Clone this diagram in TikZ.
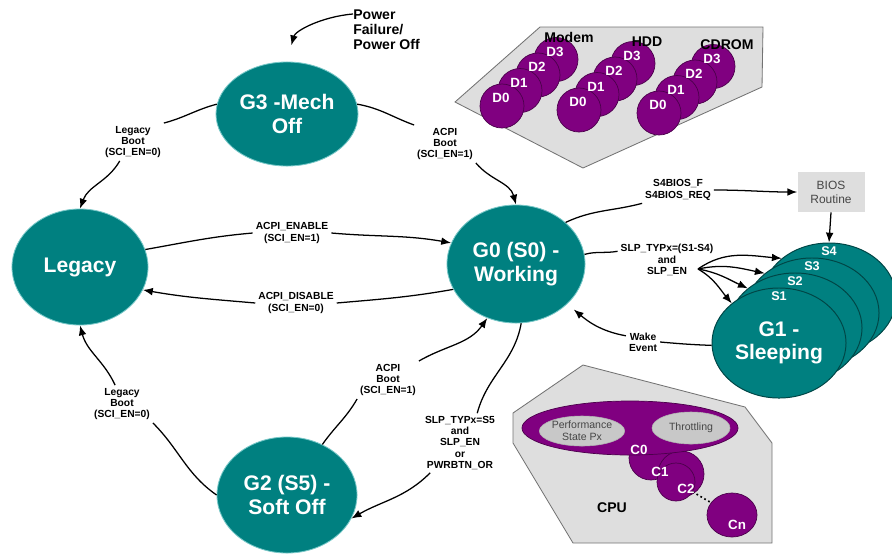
\documentclass[tikz,border=0pt]{standalone}
\usepackage{fontspec}
\setmainfont{Liberation Sans}
\usetikzlibrary{shapes.geometric,arrows.meta}
\definecolor{gteal}{RGB}{0,128,128}
\definecolor{grim}{RGB}{120,200,200}
\definecolor{sline}{RGB}{0,70,70}
\definecolor{dpurple}{RGB}{128,0,128}
\definecolor{dline}{RGB}{75,0,75}
\definecolor{boxgray}{RGB}{222,222,222}
\definecolor{pgray}{RGB}{200,200,200}
\definecolor{tgray}{RGB}{70,70,70}

\begin{document}
\begin{tikzpicture}[x=0.025cm, y=-0.025cm,
  gstate/.style={ellipse, fill=gteal, draw=grim, line width=0.6pt, text=white, inner sep=0pt,
    align=center, font=\bfseries\fontsize{15}{16.5}\selectfont},
  sstate/.style={ellipse, fill=gteal, draw=sline, line width=0.7pt, text=white, inner sep=0pt,
    align=center, minimum width=3.35cm, minimum height=2.75cm, font=\bfseries\fontsize{15}{16.5}\selectfont},
  slbl/.style={text=white, inner sep=0pt, font=\bfseries\fontsize{9}{10}\selectfont},
  tlbl/.style={align=center, inner sep=2pt, font=\bfseries\fontsize{7.3}{8}\selectfont},
  panel/.style={fill=boxgray, draw=black!55, line width=0.6pt},
  devc/.style={circle, fill=dpurple, draw=dline, line width=0.5pt, minimum size=1.1cm, inner sep=0pt},
  devt/.style={text=white, inner sep=0pt, font=\bfseries\fontsize{9.5}{10}\selectfont},
  cstate/.style={circle, fill=dpurple, draw=dline, line width=0.5pt, inner sep=0pt},
  pell/.style={ellipse, fill=pgray, draw=black!30, line width=0.4pt, inner sep=0pt, align=center,
    text=tgray, font=\fontsize{7.5}{8.5}\selectfont},
  biosbox/.style={fill=boxgray, text=tgray, align=center, minimum width=1.675cm, minimum height=1cm,
    inner sep=0pt, font=\fontsize{8.5}{10}\selectfont},
  ln/.style={line width=0.9pt},
  arr/.style={line width=0.9pt, -{Latex[length=7pt,width=5.5pt]}}]
\useasboundingbox (0,0) rectangle (892,554);

% dispositius
\draw[panel] (540,27) -- (763,27) -- (762,87) -- (583,168) -- (455,102) -- cycle;
\foreach \nm/\bx/\by in {mod/502/106, hdd/579/110, cdr/659/113}
  \foreach \k in {3,2,1,0}
    \node[devc] (\nm\k) at ({\bx+18*\k},{\by-15.5*\k}) {};
\foreach \nm in {mod, hdd, cdr}
  \foreach \k in {3,2,1,0}
    \node[devt] (\nm t\k) at ([shift={(-1,-8)}]\nm\k.center) {D\k};
\node[font=\bfseries\fontsize{10}{12}\selectfont] (lblModem) at (569,37) {Modem};
\node[font=\bfseries\fontsize{10}{12}\selectfont] (lblHdd) at (647,42) {HDD};
\node[font=\bfseries\fontsize{10}{12}\selectfont] (lblCdrom) at (727,45) {CDROM};

% CPU
\draw[panel] (583,365) -- (745,407) -- (772,443) -- (772,543) -- (573,543) -- (513,443) -- (513,413) -- cycle;
\node[cstate, minimum size=1.1cm] (c0) at (651,458) {};
\node[cstate, minimum size=1.15cm] (c1) at (681,474) {};
\node[cstate, minimum size=0.95cm] (c2) at (676,482) {};
\node[cstate, ellipse, minimum width=1.25cm, minimum height=1.1cm] (cn) at (732,515) {};
\draw[line width=1.2pt, dotted] (c2) -- (cn);
\node[ellipse, fill=dpurple, draw=dline, line width=0.5pt, minimum width=5.4cm, minimum height=1.35cm] (cpu) at (630,428) {};
\node[pell, minimum width=2.1cm, minimum height=0.75cm] (perf) at (582,431) {Performance\\State Px};
\node[pell, minimum width=1.95cm, minimum height=0.8cm] (thr) at (691,428) {Throttling};
\node[devt] (c0t) at (639,450) {C0};
\node[devt] (c1t) at (660,472) {C1};
\node[devt] (c2t) at (686,489) {C2};
\node[devt] (cnt) at (737,525) {Cn};
\node[font=\bfseries\fontsize{10}{12}\selectfont] (cpul) at (612,508) {CPU};

% estats globals
\node[gstate, minimum width=3.55cm, minimum height=2.6cm] (g3) at (287,114) {G3 -Mech\\Off};
\node[gstate, minimum width=3.4cm, minimum height=2.9cm] (legacy) at (80,267) {Legacy};
\node[gstate, minimum width=3.45cm, minimum height=2.95cm] (g0) at (516,264) {G0 (S0) -\\Working};
\node[gstate, minimum width=3.5cm, minimum height=2.9cm] (g2) at (287,495) {G2 (S5) -\\Soft Off};
\node[sstate] (s4) at (829,298) {};
\node[sstate] (s3) at (812,313) {};
\node[sstate] (s2) at (795,328) {};
\node[sstate] (s1) at (779,343) {G1 -\\Sleeping};
\node[slbl] (s4t) at ([yshift=-6pt]s4.north) {S4};
\node[slbl] (s3t) at ([yshift=-6pt]s3.north) {S3};
\node[slbl] (s2t) at ([yshift=-6pt]s2.north) {S2};
\node[slbl] (s1t) at ([yshift=-6pt]s1.north) {S1};
\node[biosbox] (bios) at (831,192) {BIOS\\Routine};

% etiquetes
\node[align=left, anchor=west, inner sep=0pt, font=\bfseries\fontsize{10}{10.7}\selectfont] (lbPower) at (353,30) {Power\\Failure/\\Power Off};
\node[tlbl] (lbLegA) at (133,142) {Legacy\\Boot\\(SCI\_EN=0)};
\node[tlbl] (lbAcpiA) at (445,144) {ACPI\\Boot\\(SCI\_EN=1)};
\node[tlbl] (lbEnable) at (292,233) {ACPI\_ENABLE\\(SCI\_EN=1)};
\node[tlbl] (lbDisable) at (296,303) {ACPI\_DISABLE\\(SCI\_EN=0)};
\node[tlbl] (lbLegB) at (122,404) {Legacy\\Boot\\(SCI\_EN=0)};
\node[tlbl] (lbAcpiB) at (388,380) {ACPI\\Boot\\(SCI\_EN=1)};
\node[tlbl] (lbS5) at (460,443) {SLP\_TYPx=S5\\and\\SLP\_EN\\or\\PWRBTN\_OR};
\node[tlbl] (lbBios) at (678,190) {S4BIOS\_F\\S4BIOS\_REQ};
\node[tlbl] (lbSlp) at (667,260) {SLP\_TYPx=(S1-S4)\\and\\SLP\_EN};
\node[tlbl] (lbWake) at (643,342) {Wake\\Event};
\coordinate (slpFork) at (698,269);

% transicions
\draw[arr, shorten >=12pt] ([yshift=-3pt]lbPower.north west) to[out=185,in=75] (g3.north);
\draw[ln] (g3.172) to[out=195,in=15] (lbLegA.north east);
\draw[arr] (lbLegA.235) to[out=240,in=70] (legacy.north);
\draw[ln] (g3.8) to[out=-10,in=160] (lbAcpiA.north west);
\draw[arr] (lbAcpiA.south east) to[out=-50,in=105] (g0.north);
\draw[ln] (legacy.15) to[out=10,in=185] (lbEnable.west);
\draw[arr] (lbEnable.east) to[out=-5,in=170] (g0.162);
\draw[ln] (g0.202) to[out=190,in=5] (lbDisable.east);
\draw[arr] (lbDisable.west) to[out=175,in=-10] (legacy.-20);
\draw[ln] (g2.west) to[out=145,in=-45] (lbLegB.south east);
\draw[arr] (lbLegB.110) to[out=115,in=-75] (legacy.south);
\draw[ln] (g2.55) to[out=55,in=-120] (lbAcpiB.south west);
\draw[arr] (lbAcpiB.north east) to[out=30,in=-125] (g0.-118);
\draw[ln] (g0.-85) to[out=-100,in=75] (lbS5.60);
\draw[arr] (lbS5.225) to[out=225,in=30] (g2.-20);
\draw[ln] (g0.40) to[out=25,in=195] (lbBios.south west);
\draw[arr] (lbBios.east) to[out=0,in=180] (bios.west);
\draw[arr] (bios.south) -- (s4.north);
\draw[ln] (g0.8) to[out=15,in=190] (lbSlp.170);
\draw[arr] (slpFork) to[out=35,in=175] (s4.140);
\draw[arr] (slpFork) to[out=12,in=168] (s3.140);
\draw[arr] (slpFork) to[out=-10,in=155] (s2.140);
\draw[arr] (slpFork) to[out=-30,in=130] (s1.140);
\draw[ln] (s1.182) to[out=178,in=-5] (lbWake.east);
\draw[arr, shorten >=6pt] (lbWake.160) to[out=170,in=-40] (g0.-38);
\end{tikzpicture}
\end{document}
